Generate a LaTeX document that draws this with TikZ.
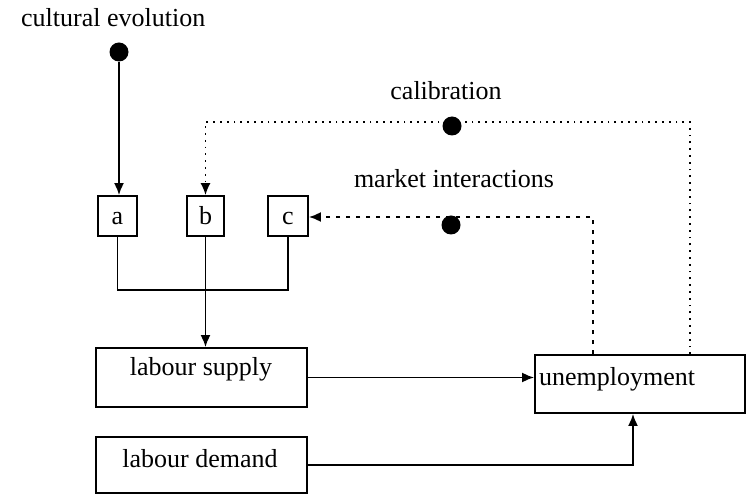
\documentclass[tikz,border=0pt]{standalone}
\usepackage{fontspec}
\setmainfont{Liberation Serif}
\usetikzlibrary{arrows.meta}
\begin{document}
\begin{tikzpicture}[x=1pt,y=-1pt,
  txt/.style={font=\fontsize{26}{30}\selectfont, inner sep=0pt},
  boxn/.style={draw, line width=1.8pt, inner sep=0pt},
  dotn/.style={circle, fill=black, minimum size=19pt, inner sep=0pt},
  solidcon/.style={line width=1.8pt},
  tip/.style={-{Latex[length=12pt,width=10pt]}},
  calib/.style={line width=1.5pt, dash pattern=on 1.8pt off 5pt},
  market/.style={line width=1.8pt, dash pattern=on 4pt off 6pt}]
\useasboundingbox (0,0) rectangle (747,494);

% texts
\node[txt, anchor=base west] (tce) at (21,27) {cultural evolution};
\node[txt, anchor=base] (tcal) at (446,100) {calibration};
\node[txt, anchor=base] (tmi) at (454,188) {market interactions};

% dots
\node[dotn] (d1) at (119,52) {};

% small boxes
\node[boxn, minimum width=39pt, minimum height=40pt] (a) at (117.5,216) {};
\node[boxn, minimum width=37pt, minimum height=40pt] (b) at (205.5,216) {};
\node[boxn, minimum width=40pt, minimum height=40pt] (c) at (288,216) {};
\node[txt, anchor=base] (ta) at (117.5,225) {a};
\node[txt, anchor=base] (tb) at (205.5,225) {b};
\node[txt, anchor=base] (tc) at (288,225) {c};

% big boxes
\node[boxn, minimum width=211pt, minimum height=59pt] (ls) at (201.5,377.5) {};
\node[boxn, minimum width=211pt, minimum height=56pt] (ld) at (201.5,465) {};
\node[boxn, minimum width=210pt, minimum height=58pt] (un) at (640,384) {};
\node[txt, anchor=base] (tls) at (201,375) {labour supply};
\node[txt, anchor=base] (tld) at (200,467) {labour demand};
\node[txt, anchor=base west] (tun) at (539,385) {unemployment};

\coordinate (calY) at (0,122);
\coordinate (mkY) at (0,217);
\coordinate (busY) at (0,290);

% cultural evolution
\draw[solidcon, tip] (d1) -- (d1 |- a.north);
% bus
\draw[solidcon] (a.south) -- (a.south |- busY) -- (c.south |- busY) -- (c.south);
\draw[solidcon, tip] (b.south) -- (b.south |- ls.north);
% supply/demand to unemployment
\draw[solidcon, tip] (ls.east) -- (ls.east -| un.west);
\draw[solidcon, tip] (ld.east) -| ([xshift=-7pt]un.south);

% calibration loop
\draw[calib, tip] ([xshift=50pt]un.north) -- ([xshift=50pt]un.north |- calY) -- (b.north |- calY) -- (b.north);
\node[dotn] (d2) at (452,126) {};

% market interactions loop
\draw[market, tip] ([xshift=-47pt]un.north) -- ([xshift=-47pt]un.north |- mkY) -- (c.east |- mkY);
\node[dotn] (d3) at (451,225) {};
\end{tikzpicture}
\end{document}
